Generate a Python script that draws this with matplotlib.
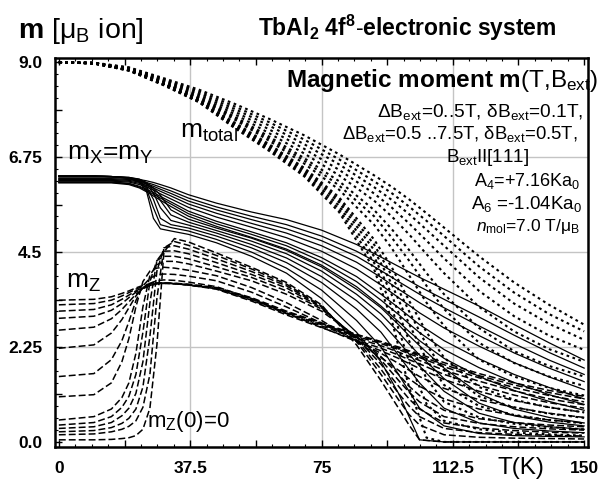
import matplotlib
matplotlib.use('Agg')
import matplotlib.pyplot as plt
from matplotlib.ticker import MultipleLocator, FuncFormatter

plt.rcParams['font.family'] = ['Liberation Sans', 'DejaVu Sans']
plt.rcParams['mathtext.fontset'] = 'custom'
plt.rcParams['mathtext.rm'] = 'Liberation Sans'
plt.rcParams['mathtext.it'] = 'Liberation Sans:italic'
plt.rcParams['mathtext.bf'] = 'Liberation Sans:bold'

# ---------------- data ----------------
fields = ["0", "0.1", "0.2", "0.3", "0.4", "0.5", "1.0", "1.5", "2.0", "3.0", "4.0", "5.0", "6.0", "7.5"]

# total moment m_total(T)  (dotted)
T_tot = [0, 10, 20, 30, 40, 50, 60, 70, 80, 90, 95, 100, 105, 110, 120, 130, 140, 150]
mt_0   = [9.0, 8.97, 8.80, 8.45, 8.05, 7.45, 6.90, 6.30, 5.45, 4.10, 2.90, 1.30, 0.10, 0.0, 0.0, 0.0, 0.0, 0.0]
mt_0p1 = [9.0, 8.97, 8.80, 8.46, 8.06, 7.47, 6.93, 6.34, 5.52, 4.25, 3.20, 1.90, 0.90, 0.50, 0.30, 0.22, 0.18, 0.15]
mt_0p2 = [9.0, 8.97, 8.81, 8.47, 8.07, 7.50, 6.96, 6.38, 5.60, 4.40, 3.50, 2.40, 1.50, 0.95, 0.58, 0.43, 0.35, 0.30]
mt_0p3 = [9.0, 8.97, 8.81, 8.48, 8.08, 7.53, 7.00, 6.43, 5.68, 4.55, 3.75, 2.80, 1.95, 1.35, 0.85, 0.64, 0.52, 0.44]
mt_0p4 = [9.0, 8.97, 8.81, 8.48, 8.09, 7.55, 7.03, 6.47, 5.74, 4.68, 3.95, 3.10, 2.30, 1.70, 1.08, 0.82, 0.67, 0.57]
mt_0p5 = [9.0, 8.97, 8.82, 8.49, 8.10, 7.58, 7.06, 6.50, 5.80, 4.80, 4.15, 3.35, 2.60, 2.00, 1.30, 1.00, 0.82, 0.70]
mt_1p0 = [9.0, 8.98, 8.82, 8.50, 8.12, 7.65, 7.14, 6.60, 5.98, 5.15, 4.60, 3.95, 3.30, 2.75, 1.95, 1.55, 1.28, 1.10]
mt_1p5 = [9.0, 8.98, 8.83, 8.51, 8.14, 7.69, 7.19, 6.67, 6.08, 5.35, 4.85, 4.30, 3.70, 3.15, 2.35, 1.87, 1.55, 1.33]
mt_2p0 = [9.0, 8.98, 8.83, 8.52, 8.16, 7.72, 7.24, 6.73, 6.18, 5.50, 5.05, 4.55, 4.00, 3.50, 2.70, 2.15, 1.80, 1.55]
mt_3p0 = [9.0, 8.98, 8.84, 8.54, 8.19, 7.78, 7.32, 6.84, 6.32, 5.72, 5.35, 4.92, 4.45, 4.00, 3.20, 2.62, 2.20, 1.90]
mt_4p0 = [9.0, 8.98, 8.85, 8.56, 8.23, 7.84, 7.41, 6.95, 6.45, 5.89, 5.56, 5.18, 4.77, 4.35, 3.58, 2.98, 2.52, 2.18]
mt_5p0 = [9.0, 8.99, 8.86, 8.58, 8.27, 7.90, 7.50, 7.06, 6.58, 6.04, 5.74, 5.40, 5.03, 4.65, 3.90, 3.28, 2.80, 2.42]
mt_6p0 = [9.0, 8.99, 8.87, 8.60, 8.31, 7.96, 7.58, 7.17, 6.70, 6.18, 5.90, 5.58, 5.24, 4.88, 4.16, 3.54, 3.03, 2.62]
mt_7p5 = [9.0, 8.99, 8.88, 8.62, 8.35, 8.02, 7.66, 7.27, 6.82, 6.32, 6.05, 5.75, 5.42, 5.08, 4.40, 3.78, 3.25, 2.78]

# in-plane components m_x = m_y (solid)
T_xy = [0, 10, 15, 20, 23, 25, 27, 29, 32, 37, 45, 55, 65, 75, 85, 92, 97, 100, 103, 110, 120, 130, 140, 150]
mx_0   = [6.30, 6.30, 6.29, 6.25, 6.15, 5.95, 5.30, 5.05, 5.00, 4.92, 4.72, 4.40, 4.00, 3.40, 2.60, 1.90, 1.15, 0.60, 0.05, 0.0, 0.0, 0.0, 0.0, 0.0]
mx_0p1 = [6.30, 6.30, 6.29, 6.25, 6.17, 6.00, 5.55, 5.15, 5.08, 5.00, 4.80, 4.50, 4.12, 3.60, 2.88, 2.25, 1.60, 1.20, 0.80, 0.38, 0.20, 0.15, 0.13, 0.12]
mx_0p2 = [6.30, 6.30, 6.29, 6.26, 6.19, 6.05, 5.75, 5.30, 5.15, 5.07, 4.88, 4.60, 4.25, 3.78, 3.15, 2.60, 2.05, 1.72, 1.40, 0.80, 0.45, 0.32, 0.26, 0.22]
mx_0p3 = [6.30, 6.30, 6.29, 6.26, 6.21, 6.10, 5.90, 5.55, 5.25, 5.14, 4.95, 4.68, 4.36, 3.92, 3.35, 2.85, 2.38, 2.08, 1.80, 1.20, 0.68, 0.46, 0.36, 0.30]
mx_0p4 = [6.30, 6.30, 6.29, 6.27, 6.22, 6.13, 5.97, 5.72, 5.38, 5.21, 5.01, 4.76, 4.46, 4.05, 3.50, 3.03, 2.60, 2.32, 2.06, 1.50, 0.92, 0.62, 0.47, 0.38]
mx_0p5 = [6.30, 6.30, 6.29, 6.27, 6.23, 6.15, 6.02, 5.85, 5.50, 5.28, 5.07, 4.83, 4.54, 4.15, 3.62, 3.18, 2.78, 2.52, 2.28, 1.75, 1.15, 0.78, 0.58, 0.45]
mx_1p0 = [6.14, 6.14, 6.14, 6.10, 6.02, 5.93, 5.83, 5.73, 5.58, 5.35, 5.11, 4.85, 4.57, 4.19, 3.68, 3.22, 2.85, 2.62, 2.40, 1.98, 1.55, 1.22, 0.96, 0.75]
mx_1p5 = [6.15, 6.15, 6.15, 6.12, 6.04, 5.96, 5.87, 5.78, 5.64, 5.41, 5.17, 4.92, 4.65, 4.28, 3.80, 3.36, 3.02, 2.80, 2.59, 2.19, 1.76, 1.41, 1.12, 0.89]
mx_2p0 = [6.16, 6.16, 6.16, 6.13, 6.06, 5.99, 5.91, 5.82, 5.69, 5.47, 5.23, 4.98, 4.72, 4.37, 3.92, 3.50, 3.18, 2.98, 2.78, 2.40, 1.97, 1.60, 1.29, 1.02]
mx_3p0 = [6.18, 6.18, 6.18, 6.16, 6.10, 6.04, 5.97, 5.88, 5.76, 5.56, 5.33, 5.09, 4.84, 4.52, 4.10, 3.72, 3.42, 3.24, 3.06, 2.70, 2.27, 1.88, 1.54, 1.24]
mx_4p0 = [6.20, 6.20, 6.20, 6.18, 6.13, 6.08, 6.02, 5.94, 5.83, 5.64, 5.42, 5.18, 4.95, 4.65, 4.26, 3.90, 3.62, 3.46, 3.30, 2.96, 2.52, 2.11, 1.75, 1.43]
mx_5p0 = [6.22, 6.22, 6.22, 6.20, 6.16, 6.12, 6.06, 5.99, 5.89, 5.71, 5.50, 5.27, 5.05, 4.77, 4.40, 4.06, 3.80, 3.65, 3.50, 3.18, 2.75, 2.33, 1.94, 1.60]
mx_6p0 = [6.24, 6.24, 6.24, 6.22, 6.19, 6.15, 6.10, 6.04, 5.95, 5.78, 5.57, 5.35, 5.15, 4.88, 4.52, 4.20, 3.96, 3.82, 3.68, 3.38, 2.96, 2.53, 2.12, 1.75]
mx_7p5 = [6.26, 6.26, 6.26, 6.25, 6.22, 6.19, 6.15, 6.10, 6.02, 5.86, 5.66, 5.45, 5.27, 5.02, 4.68, 4.38, 4.16, 4.03, 3.90, 3.62, 3.22, 2.78, 2.35, 1.94]

# z component m_z (dashed)
T_z = [0, 10, 15, 18, 20, 22, 24, 26, 28, 30, 33, 37, 45, 55, 65, 75, 85, 92, 97, 100, 103, 110, 120, 130, 140, 150]
mz_0   = [0.05, 0.05, 0.06, 0.08, 0.10, 0.15, 0.30, 0.80, 2.30, 4.50, 4.82, 4.74, 4.48, 4.14, 3.78, 3.25, 2.30, 1.45, 0.80, 0.40, 0.05, 0.0, 0.0, 0.0, 0.0, 0.0]
mz_0p1 = [0.17, 0.19, 0.24, 0.30, 0.37, 0.50, 0.82, 1.60, 3.40, 4.60, 4.75, 4.66, 4.42, 4.10, 3.74, 3.22, 2.38, 1.60, 1.00, 0.65, 0.40, 0.17, 0.11, 0.09, 0.08, 0.07]
mz_0p2 = [0.24, 0.27, 0.34, 0.44, 0.56, 0.78, 1.30, 2.50, 4.05, 4.60, 4.65, 4.57, 4.34, 4.04, 3.70, 3.20, 2.42, 1.72, 1.15, 0.85, 0.60, 0.32, 0.22, 0.18, 0.16, 0.14]
mz_0p3 = [0.32, 0.36, 0.46, 0.62, 0.80, 1.15, 1.90, 3.30, 4.30, 4.52, 4.53, 4.46, 4.25, 3.97, 3.65, 3.18, 2.46, 1.84, 1.32, 1.02, 0.78, 0.45, 0.33, 0.27, 0.23, 0.21]
mz_0p4 = [0.40, 0.46, 0.60, 0.82, 1.08, 1.60, 2.60, 3.80, 4.30, 4.40, 4.40, 4.34, 4.15, 3.90, 3.58, 3.15, 2.48, 1.94, 1.46, 1.18, 0.95, 0.60, 0.44, 0.36, 0.31, 0.28]
mz_0p5 = [0.52, 0.60, 0.78, 1.05, 1.40, 2.10, 3.20, 3.95, 4.20, 4.28, 4.28, 4.22, 4.05, 3.82, 3.50, 3.10, 2.50, 2.02, 1.60, 1.32, 1.10, 0.75, 0.55, 0.46, 0.40, 0.36]
mz_1p0 = [1.07, 1.12, 1.40, 1.90, 2.45, 3.20, 3.80, 4.05, 4.12, 4.14, 4.12, 4.07, 3.94, 3.66, 3.30, 2.88, 2.38, 2.00, 1.70, 1.50, 1.32, 1.02, 0.78, 0.63, 0.52, 0.45]
mz_1p5 = [1.55, 1.62, 1.95, 2.40, 2.85, 3.35, 3.70, 3.88, 3.96, 3.98, 3.97, 3.93, 3.82, 3.55, 3.20, 2.82, 2.40, 2.10, 1.86, 1.70, 1.55, 1.27, 1.00, 0.82, 0.68, 0.58]
mz_2p0 = [2.22, 2.30, 2.58, 2.90, 3.18, 3.46, 3.65, 3.76, 3.82, 3.84, 3.83, 3.79, 3.68, 3.40, 3.05, 2.72, 2.38, 2.16, 1.98, 1.86, 1.74, 1.48, 1.20, 0.98, 0.82, 0.70]
mz_3p0 = [2.65, 2.72, 2.92, 3.14, 3.32, 3.50, 3.63, 3.71, 3.75, 3.76, 3.75, 3.72, 3.62, 3.34, 3.01, 2.71, 2.41, 2.22, 2.06, 1.95, 1.85, 1.60, 1.34, 1.11, 0.93, 0.80]
mz_4p0 = [2.93, 2.98, 3.12, 3.28, 3.42, 3.55, 3.64, 3.71, 3.75, 3.76, 3.75, 3.72, 3.63, 3.36, 3.04, 2.75, 2.46, 2.28, 2.13, 2.03, 1.93, 1.70, 1.44, 1.21, 1.02, 0.88]
mz_5p0 = [3.10, 3.14, 3.25, 3.38, 3.48, 3.58, 3.66, 3.72, 3.75, 3.76, 3.75, 3.72, 3.64, 3.38, 3.06, 2.78, 2.50, 2.33, 2.19, 2.09, 2.00, 1.78, 1.52, 1.29, 1.10, 0.95]
mz_6p0 = [3.25, 3.28, 3.36, 3.46, 3.54, 3.62, 3.69, 3.74, 3.76, 3.77, 3.76, 3.73, 3.65, 3.40, 3.08, 2.80, 2.53, 2.36, 2.22, 2.13, 2.04, 1.83, 1.57, 1.35, 1.17, 1.02]
mz_7p5 = [3.36, 3.38, 3.44, 3.52, 3.58, 3.65, 3.71, 3.75, 3.77, 3.77, 3.76, 3.74, 3.66, 3.42, 3.10, 2.82, 2.55, 2.38, 2.25, 2.16, 2.08, 1.88, 1.62, 1.40, 1.22, 1.08]

x_ticks = [0, 37.5, 75, 112.5, 150]
x_ticklabels = ["0", "37.5", "75", "112.5", "150"]
y_ticks = [0.0, 2.25, 4.5, 6.75, 9.0]
y_ticklabels = ["0.0", "2.25", "4.5", "6.75", "9.0"]

m_total = [mt_0, mt_0p1, mt_0p2, mt_0p3, mt_0p4, mt_0p5, mt_1p0, mt_1p5, mt_2p0, mt_3p0, mt_4p0, mt_5p0, mt_6p0, mt_7p5]
m_xy = [mx_0, mx_0p1, mx_0p2, mx_0p3, mx_0p4, mx_0p5, mx_1p0, mx_1p5, mx_2p0, mx_3p0, mx_4p0, mx_5p0, mx_6p0, mx_7p5]
m_z = [mz_0, mz_0p1, mz_0p2, mz_0p3, mz_0p4, mz_0p5, mz_1p0, mz_1p5, mz_2p0, mz_3p0, mz_4p0, mz_5p0, mz_6p0, mz_7p5]

# ---------------- figure ----------------
W, H = 606, 486
fig = plt.figure(figsize=(W / 100, H / 100), dpi=100)
ax = fig.add_axes([55 / W, 1 - 447 / H, (588 - 55) / W, (447 - 58) / H])
ax.set_xlim(-1.1, 151.1)
ax.set_ylim(-0.12, 9.1)

grid_kw = dict(color='#c4c4c4', lw=1.0, zorder=0)
for xv in x_ticks[1:-1]:
    ax.axvline(xv, **grid_kw)
for yv in y_ticks[1:-1]:
    ax.axhline(yv, **grid_kw)

for B, vals in zip(fields, m_z):
    ax.plot(T_z, vals, color='black', lw=1.1, dashes=(4.5, 2.0), zorder=2)
for B, vals in zip(fields, m_xy):
    ax.plot(T_xy, vals, color='black', lw=0.9, ls='-', zorder=3)
for B, vals in zip(fields, m_total):
    ax.plot(T_tot, vals, color='black', lw=1.5, dashes=(1.3, 1.7), zorder=2)

# ticks
ax.xaxis.set_major_locator(MultipleLocator(18.75))
ax.xaxis.set_minor_locator(MultipleLocator(4.6875))
ax.yaxis.set_major_locator(MultipleLocator(1.125))
ax.yaxis.set_minor_locator(MultipleLocator(0.28125))


def xfmt(v, pos):
    for t, lab in zip(x_ticks, x_ticklabels):
        if abs(v - t) < 1e-6:
            return lab
    return ''


def yfmt(v, pos):
    for t, lab in zip(y_ticks, y_ticklabels):
        if abs(v - t) < 1e-6:
            return lab
    return ''


ax.xaxis.set_major_formatter(FuncFormatter(xfmt))
ax.yaxis.set_major_formatter(FuncFormatter(yfmt))
ax.tick_params(axis='both', which='major', direction='in', length=5, width=1.0,
               top=True, right=False, labelsize=12.5)
ax.tick_params(axis='both', which='minor', direction='in', length=2.5, width=0.8,
               top=True, right=False)
ax.tick_params(axis='x', which='major', pad=10)
ax.tick_params(axis='y', which='major', pad=9)
for lab in ax.get_xticklabels() + ax.get_yticklabels():
    lab.set_fontweight('bold')
for sp in ax.spines.values():
    sp.set_linewidth(1.8)


def ftext(x, y, s, **kw):
    fig.text(x / W, 1 - y / H, s, **kw)


ftext(18, 31, r"$\mathbf{m}$ [μ$_{\rm B}$ ion]", fontsize=20.5, ha='left', va='center')
ftext(258, 28, r"$\mathbf{TbAl_2\ 4f^8}$-$\mathbf{electronic\ system}$", fontsize=16.5, ha='left', va='center')

ftext(598, 81, r"$\mathbf{Magnetic\ moment\ m}$(T,B$_{\rm ext}$)", fontsize=17.5, ha='right', va='center')
ftext(583, 112, r"ΔB$_{\rm ext}$=0..5T, δB$_{\rm ext}$=0.1T,", fontsize=13.8, ha='right', va='center')
ftext(578, 134, r"ΔB$_{\rm ext}$=0.5 ..7.5T, δB$_{\rm ext}$=0.5T,", fontsize=13.3, ha='right', va='center')
ftext(488, 157, r"B$_{\rm ext}$II[111]", fontsize=13.5, ha='center', va='center')
ftext(580, 181, r"A$_4$=+7.16Ka$_0$", fontsize=13, ha='right', va='center')
ftext(582, 204, r"A$_6$ =-1.04Ka$_0$", fontsize=13.5, ha='right', va='center')
ftext(580, 227, r"$\mathit{n}_{\rm mol}$=7.0 T/μ$_{\rm B}$", fontsize=12.5, ha='right', va='center')

ftext(180, 132, r"m$_{\rm total}$", fontsize=19, ha='left', va='center')
ftext(67, 154, r"m$_{\rm X}$=m$_{\rm Y}$", fontsize=19, ha='left', va='center')
ftext(66, 282, r"m$_{\rm Z}$", fontsize=19, ha='left', va='center')
ftext(147, 421, r"m$_{\rm Z}$(0)=0", fontsize=16, ha='left', va='center')
ftext(498, 468, r"T(K)", fontsize=17.5, ha='left', va='center')

fig.savefig('out.png', dpi=100)
